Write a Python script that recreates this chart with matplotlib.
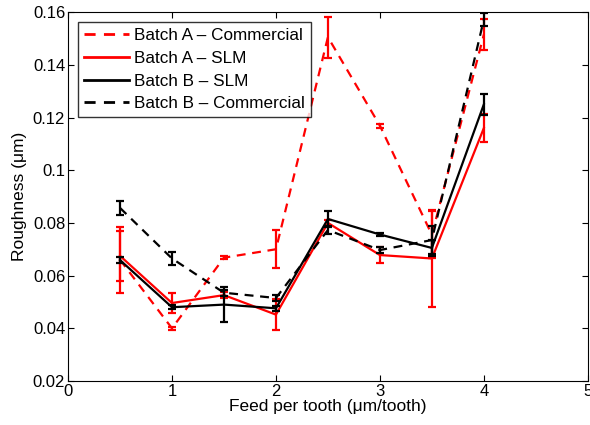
import numpy as np
import matplotlib
matplotlib.use('Agg')
import matplotlib.pyplot as plt

plt.rcParams['font.family'] = ['Liberation Sans', 'DejaVu Sans']

# feed per tooth (um/tooth)
feed = [0.5, 1.0, 1.5, 2.0, 2.5, 3.0, 3.5, 4.0]

# roughness (um) and error bars
a_com = [0.066, 0.040, 0.0668, 0.070, 0.1505, 0.1169, 0.0755, 0.1515]
a_com_err = [0.0125, 0.0006, 0.0006, 0.0073, 0.0078, 0.0008, 0.0090, 0.0057]
a_slm = [0.0675, 0.0496, 0.0526, 0.0452, 0.0800, 0.0678, 0.0665, 0.1160]
a_slm_err = [0.0095, 0.0037, 0.0010, 0.0060, 0.0010, 0.0032, 0.0185, 0.0052]
b_slm = [0.0659, 0.0480, 0.0490, 0.0476, 0.0815, 0.0756, 0.0705, 0.1250]
b_slm_err = [0.0010, 0.0008, 0.0065, 0.0010, 0.0030, 0.0006, 0.0030, 0.0039]
b_com = [0.0857, 0.0665, 0.0535, 0.0515, 0.0773, 0.0697, 0.0735, 0.1572]
b_com_err = [0.0027, 0.0025, 0.0012, 0.0010, 0.0015, 0.0012, 0.0052, 0.0025]

fig = plt.figure(figsize=(5.9, 4.25), dpi=100)
ax = fig.add_axes([0.1153, 0.1035, 0.881, 0.868])

series = [
    (a_com, a_com_err, 'r', '--', 'Batch A \u2013 Commercial'),
    (a_slm, a_slm_err, 'r', '-', 'Batch A \u2013 SLM'),
    (b_slm, b_slm_err, 'k', '-', 'Batch B \u2013 SLM'),
    (b_com, b_com_err, 'k', '--', 'Batch B \u2013 Commercial'),
]
handles = []
for y, err, c, ls, lab in series:
    dash = (4, 3) if ls == '--' else (None, None)
    line, = ax.plot(feed, y, color=c, ls=ls, lw=1.6, dashes=dash, label=lab)
    ax.errorbar(feed, y, yerr=err, color=c, ls='none', elinewidth=1.6,
                capsize=3, capthick=1.6)
    handles.append(line)

ax.set_xlim(0, 5)
ax.set_ylim(0.02, 0.16)
ax.set_xticks(range(6))
ax.set_yticks(np.arange(0.02, 0.161, 0.02))
ax.set_yticklabels(['0.02', '0.04', '0.06', '0.08', '0.1', '0.12', '0.14', '0.16'])
ax.tick_params(direction='in', top=True, right=True, labelsize=12, length=4, pad=2)
ax.set_xlabel('Feed per tooth (\u03bcm/tooth)', fontsize=12.5, labelpad=0)
ax.set_ylabel('Roughness (\u03bcm)', fontsize=12.5, labelpad=4)

leg = ax.legend(handles=handles, loc='upper left', fontsize=12.3, frameon=True,
                fancybox=False, handlelength=2.6, borderaxespad=0.6,
                labelspacing=0.45, handletextpad=0.3, borderpad=0.35)
leg.get_frame().set_edgecolor('k')
leg.get_frame().set_linewidth(1.0)
for h in leg.get_lines():
    h.set_linewidth(2)

plt.savefig('out.png')
